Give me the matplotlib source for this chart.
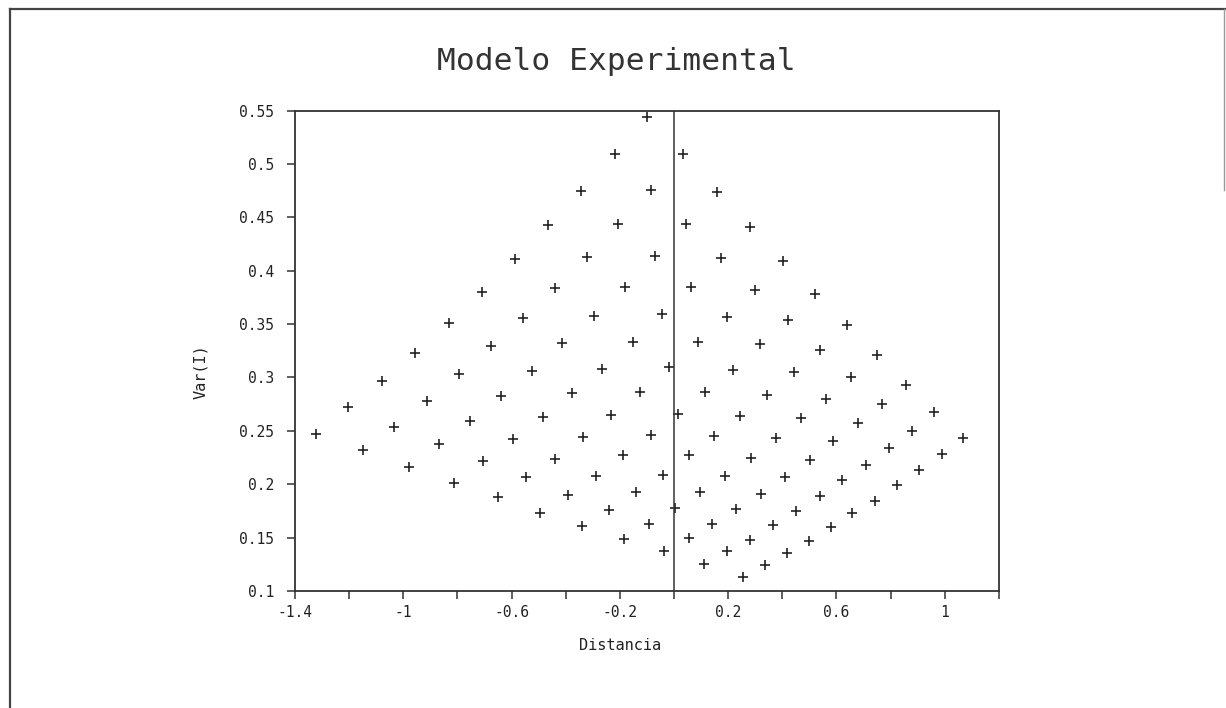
import numpy as np
import matplotlib.pyplot as plt
from matplotlib.lines import Line2D

plt.rcParams['font.family'] = 'DejaVu Sans Mono'
plt.rcParams['axes.unicode_minus'] = False

# Distancia / Var(I) pairs of the experimental design
distancia = [
    -1.322, -1.203, -1.149, -1.078, -1.033, -0.980, -0.957, -0.914, -0.867, -0.813,
    -0.796, -0.754, -0.704, -0.677, -0.638, -0.652, -0.594, -0.547, -0.525, -0.494,
    -0.485, -0.441, -0.412, -0.390, -0.377, -0.336, -0.339, -0.288, -0.266, -0.241,
    -0.231, -0.187, -0.153, -0.184, -0.126, -0.142, -0.086, -0.094, -0.042, -0.019,
    -0.037, 0.003,
    -0.099, -0.219, -0.345, -0.086, -0.466, -0.207, -0.587, -0.321, -0.070, -0.709,
    -0.441, -0.182, -0.831, -0.556, -0.296, -0.044,
    0.033, 0.159, 0.044, 0.282, 0.172, 0.404, 0.064, 0.299, 0.520, 0.194,
    0.422, 0.639, 0.089, 0.317, 0.539, 0.748, 0.217, 0.442, 0.655, 0.857,
    0.116, 0.344, 0.562, 0.768, 0.960, 0.015, 0.245, 0.468, 0.678, 0.878,
    1.066, 0.149, 0.375, 0.588, 0.793, 0.988, 0.054, 0.283, 0.504, 0.709,
    0.905, 0.188, 0.411, 0.621, 0.823, 0.095, 0.320, 0.539, 0.742, 0.230,
    0.449, 0.658, 0.141, 0.367, 0.578, 0.054, 0.279, 0.497, 0.196, 0.416,
    0.109, 0.336, 0.255,
]
varianza = [
    0.247, 0.272, 0.232, 0.297, 0.254, 0.216, 0.323, 0.278, 0.238, 0.201,
    0.303, 0.259, 0.222, 0.329, 0.283, 0.188, 0.242, 0.207, 0.306, 0.173,
    0.263, 0.224, 0.332, 0.190, 0.285, 0.244, 0.161, 0.208, 0.308, 0.176,
    0.265, 0.227, 0.333, 0.149, 0.286, 0.193, 0.246, 0.163, 0.209, 0.310,
    0.137, 0.178,
    0.544, 0.509, 0.475, 0.476, 0.443, 0.444, 0.411, 0.413, 0.414, 0.380,
    0.384, 0.385, 0.351, 0.356, 0.358, 0.359,
    0.509, 0.474, 0.444, 0.441, 0.412, 0.409, 0.385, 0.382, 0.378, 0.357,
    0.354, 0.349, 0.333, 0.331, 0.326, 0.321, 0.307, 0.305, 0.300, 0.293,
    0.286, 0.284, 0.280, 0.275, 0.268, 0.266, 0.264, 0.262, 0.257, 0.250,
    0.243, 0.245, 0.243, 0.240, 0.234, 0.228, 0.227, 0.225, 0.223, 0.218,
    0.213, 0.208, 0.207, 0.204, 0.199, 0.193, 0.191, 0.189, 0.184, 0.177,
    0.175, 0.173, 0.163, 0.162, 0.160, 0.150, 0.148, 0.147, 0.137, 0.136,
    0.125, 0.124, 0.113,
]

x_ticks = np.arange(-1.4, 1.21, 0.2)
x_labels = ['-1.4', '', '-1', '', '-0.6', '', '-0.2', '', '0.2', '', '0.6', '', '1', '']
y_ticks = np.arange(0.10, 0.551, 0.05)
y_labels = ['0.1', '0.15', '0.2', '0.25', '0.3', '0.35', '0.4', '0.45', '0.5', '0.55']

ink = '#222222'

fig = plt.figure(figsize=(12.26, 7.08), dpi=100)
ax = fig.add_axes([0.2406, 0.1653, 0.5742, 0.6786])

ax.plot(distancia, varianza, linestyle='none', marker='+', markersize=7,
        markeredgewidth=1.2, color=ink)
ax.axvline(0, color='#333333', linewidth=1.1)

ax.set_xlim(-1.4, 1.2)
ax.set_ylim(0.1, 0.55)
ax.set_xticks(x_ticks[:len(x_labels)])
ax.set_xticklabels(x_labels[:len(x_ticks)])
ax.set_yticks(y_ticks)
ax.set_yticklabels(y_labels)
ax.tick_params(direction='out', length=6, width=1.1, color='#333333',
               labelsize=10.5, labelcolor=ink)
ax.tick_params(axis='y', pad=9)
ax.tick_params(axis='x', pad=4)
for s in ax.spines.values():
    s.set_linewidth(1.3)
    s.set_color('#333333')

ax.set_xlabel('Distancia', fontsize=11, color=ink)
ax.xaxis.set_label_coords(0.462, -0.098)
ax.set_ylabel('Var(I)', fontsize=11, color=ink)
ax.yaxis.set_label_coords(-0.124, 0.457)

fig.text(0.5025, 1 - 62 / 708, 'Modelo Experimental', ha='center', va='center',
         fontsize=22.5, color='#333333')

# page frame: top and left edges, faint piece on the right
fig.add_artist(Line2D([10 / 1226, 1], [1 - 9 / 708, 1 - 9 / 708],
                      transform=fig.transFigure, color='#444444', lw=1.6))
fig.add_artist(Line2D([10 / 1226, 10 / 1226], [0, 1 - 9 / 708],
                      transform=fig.transFigure, color='#444444', lw=1.6))
fig.add_artist(Line2D([1224 / 1226, 1224 / 1226], [1 - 190 / 708, 1 - 9 / 708],
                      transform=fig.transFigure, color='#999999', lw=1.0))

fig.savefig('out.png', dpi=100)
